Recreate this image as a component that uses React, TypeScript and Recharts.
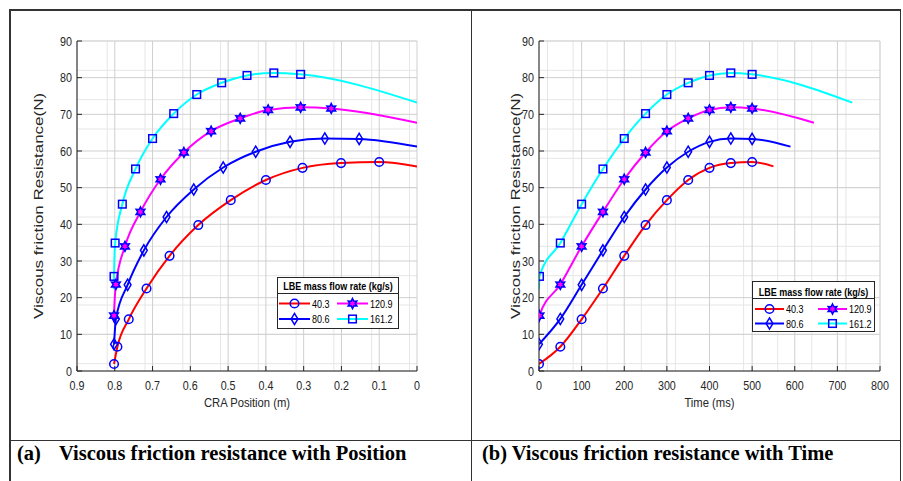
import React from 'react';
import { LineChart, Line, XAxis, YAxis, CartesianGrid, Legend, Label } from 'recharts';

// ---------- data ----------
const flowRates = ['40.3', '80.6', '120.9', '161.2'];
const lineColors = ['#ff0000', '#0000ff', '#ff00ff', '#00ffff'];
const markerKinds = ['circle', 'diamond', 'hexagram', 'square'];

// LBE 40.3 kg/s
const time40 = [0, 50, 100, 150, 200, 250, 300, 350, 400, 450, 500, 550];
const pos40 = [0.802, 0.793, 0.763, 0.716, 0.655, 0.579, 0.493, 0.4, 0.303, 0.201, 0.1, 0];
const force40 = [1.9, 6.6, 14.1, 22.5, 31.4, 39.8, 46.6, 52.1, 55.4, 56.7, 57.0, 55.8];
const mark40 = [1, 1, 1, 1, 1, 1, 1, 1, 1, 1, 1, 0];

// LBE 80.6 kg/s
const time80 = [0, 50, 100, 150, 200, 250, 300, 350, 400, 450, 500, 590];
const pos80 = [0.802, 0.797, 0.766, 0.723, 0.663, 0.591, 0.513, 0.427, 0.336, 0.244, 0.153, 0];
const force80 = [7.3, 14.2, 23.5, 32.9, 42.0, 49.5, 55.5, 59.8, 62.5, 63.4, 63.3, 61.2];
const mark80 = [1, 1, 1, 1, 1, 1, 1, 1, 1, 1, 1, 0];

// LBE 120.9 kg/s
const time120 = [0, 1, 50, 100, 150, 200, 250, 300, 350, 400, 450, 500, 645];
const pos120 = [0.802, 0.802, 0.797, 0.773, 0.732, 0.679, 0.617, 0.545, 0.468, 0.394, 0.308, 0.227, 0];
const force120 = [13.2, 15.1, 23.6, 34.0, 43.4, 52.3, 59.6, 65.4, 68.9, 71.2, 71.9, 71.6, 67.7];
const mark120 = [0, 1, 1, 1, 1, 1, 1, 1, 1, 1, 1, 1, 0];

// LBE 161.2 kg/s
const time161 = [0, 1, 50, 100, 150, 200, 250, 300, 350, 400, 450, 500, 735];
const pos161 = [0.802, 0.802, 0.799, 0.78, 0.745, 0.7, 0.644, 0.583, 0.517, 0.45, 0.379, 0.308, 0];
const force161 = [22.3, 25.8, 34.9, 45.5, 55.1, 63.4, 70.2, 75.4, 78.6, 80.6, 81.3, 80.9, 73.2];
const mark161 = [0, 1, 1, 1, 1, 1, 1, 1, 1, 1, 1, 1, 0];

// ticks
const forceTicks = [0, 10, 20, 30, 40, 50, 60, 70, 80, 90];
const posTicks = [0, 0.1, 0.2, 0.3, 0.4, 0.5, 0.6, 0.7, 0.8, 0.9];
const timeTicks = [0, 100, 200, 300, 400, 500, 600, 700, 800];
const forceMinor = Array.from({ length: 46 }, (_, i) => i * 2);
const posMinor = Array.from({ length: 46 }, (_, i) => Math.round(i * 2) / 100);
const timeMinor = Array.from({ length: 41 }, (_, i) => i * 20);

const seriesTime = [time40, time80, time120, time161];
const seriesPos = [pos40, pos80, pos120, pos161];
const seriesForce = [force40, force80, force120, force161];
const seriesMark = [mark40, mark80, mark120, mark161];

const build = (xs: number[], ys: number[], ms: number[]) =>
  xs.map((x, i) => ({ x, y: ys[i], m: ms[i] }));

// ---------- styles ----------
const SANS = "'Liberation Sans', Arial, sans-serif";
const SERIF = "'Liberation Serif', 'Times New Roman', serif";
const AXIS = '#262626';
const MARK = '#0000ff';
const SQ = 0.86; // horizontal squeeze of the chart texts

function MarkerShape({ kind, cx, cy }: { kind: string; cx: number; cy: number }) {
  const sw = 1.5;
  if (kind === 'circle') return <circle cx={cx} cy={cy} r={4.3} fill="none" stroke={MARK} strokeWidth={sw} />;
  if (kind === 'square')
    return <rect x={cx - 3.8} y={cy - 3.8} width={7.6} height={7.6} fill="none" stroke={MARK} strokeWidth={sw} />;
  if (kind === 'diamond')
    return (
      <polygon
        points={`${cx},${cy - 5.6} ${cx + 3.4},${cy} ${cx},${cy + 5.6} ${cx - 3.4},${cy}`}
        fill="none"
        stroke={MARK}
        strokeWidth={sw}
      />
    );
  const pts: string[] = [];
  for (let i = 0; i < 12; i++) {
    const r = i % 2 === 0 ? 5.0 : 2.7;
    const a = (Math.PI / 6) * i - Math.PI / 2;
    pts.push(`${cx + r * Math.cos(a)},${cy + r * Math.sin(a)}`);
  }
  return <polygon points={pts.join(' ')} fill="#ff00ff" stroke={MARK} strokeWidth={1.5} />;
}

const makeDot = (kind: string) => (props: any) => {
  const { cx, cy, payload, index } = props;
  if (!payload || !payload.m || cx == null || cy == null) return <g key={`d-${kind}-${index}`} />;
  return (
    <g key={`d-${kind}-${index}`}>
      <MarkerShape kind={kind} cx={cx} cy={cy} />
    </g>
  );
};

function SqText({ x, y, sx, children, ...rest }: any) {
  return (
    <text transform={`translate(${x},${y}) scale(${sx},1)`} x={0} y={0} {...rest}>
      {children}
    </text>
  );
}

type LegendGeom = {
  w: number;
  h: number;
  titleY: number;
  sepY: number;
  rowY: number[];
  colX: number[];
  lineLen: number;
};

function LegendBox({ g }: { g: LegendGeom }) {
  return (
    <svg width={g.w} height={g.h} style={{ display: 'block' }}>
      <rect x={0.5} y={0.5} width={g.w - 1} height={g.h - 1} fill="#fff" stroke={AXIS} strokeWidth={1} />
      <SqText x={g.w / 2} y={g.titleY} sx={0.82} textAnchor="middle" fontFamily={SANS} fontWeight="bold" fontSize={11} fill="#000">
        LBE mass flow rate (kg/s)
      </SqText>
      <line x1={0.5} x2={g.w - 0.5} y1={g.sepY} y2={g.sepY} stroke={AXIS} strokeWidth={1} />
      {flowRates.map((label, i) => {
        const col = Math.floor(i / 2);
        const row = i % 2;
        const x0 = g.colX[col];
        const y = g.rowY[row];
        return (
          <g key={label}>
            <line x1={x0} x2={x0 + g.lineLen} y1={y} y2={y} stroke={lineColors[i]} strokeWidth={2} />
            <MarkerShape kind={markerKinds[i]} cx={x0 + g.lineLen / 2} cy={y} />
            <SqText x={x0 + g.lineLen + 2} y={y + 4} sx={0.82} fontFamily={SANS} fontSize={11} fill="#000">
              {label}
            </SqText>
          </g>
        );
      })}
    </svg>
  );
}

const xLabel = (text: string) => (props: any) => {
  const vb = props.viewBox || {};
  return (
    <SqText x={vb.x + vb.width / 2} y={vb.y + 36} sx={0.9} textAnchor="middle" fill={AXIS} fontSize={12.5} fontFamily={SANS}>
      {text}
    </SqText>
  );
};

const yLabel = (text: string, bx: number) => (props: any) => {
  const vb = props.viewBox || {};
  const cy = vb.y + vb.height / 2;
  return (
    <text
      transform={`translate(${bx},${cy}) scale(0.8,1) rotate(-90)`}
      x={0}
      y={0}
      textAnchor="middle"
      fill={AXIS}
      fontSize={17}
      fontFamily={SANS}
    >
      {text}
    </text>
  );
};

const makeXTick = (fmt: (v: number) => string) => (props: any) => {
  const { x, y, payload } = props;
  return (
    <SqText x={x} y={y} sx={SQ} dy="0.72em" textAnchor="middle" fill={AXIS} fontSize={12.5} fontFamily={SANS}>
      {fmt(payload.value)}
    </SqText>
  );
};

const YTick = (props: any) => {
  const { x, y, payload } = props;
  return (
    <SqText x={x} y={y} sx={SQ} dy="0.36em" textAnchor="end" fill={AXIS} fontSize={12.5} fontFamily={SANS}>
      {String(payload.value)}
    </SqText>
  );
};

const fmtPos = (v: number) => (v === 0 ? '0' : v.toFixed(1));
const fmtTime = (v: number) => String(v);

function Panel({
  xs,
  xTicks,
  xMinor,
  xDomain,
  reversed,
  xText,
  fmt,
  width,
  yAxisWidth,
  rightMargin,
  labelX,
  legendPos,
  legendGeom,
}: any) {
  return (
    <LineChart width={width} height={420} margin={{ top: 31, right: rightMargin, bottom: 14, left: 0 }}>
      <CartesianGrid verticalValues={xMinor} horizontalValues={forceMinor} stroke="#e6e6e6" strokeWidth={1} />
      <CartesianGrid verticalValues={xTicks} horizontalValues={forceTicks} stroke="#cfcfcf" strokeWidth={1} />
      <XAxis
        dataKey="x"
        type="number"
        domain={xDomain}
        ticks={xTicks}
        reversed={reversed}
        allowDataOverflow
        height={45}
        tickSize={-5}
        tickMargin={15}
        stroke={AXIS}
        tick={makeXTick(fmt)}
        label={<Label content={xLabel(xText)} />}
      />
      <XAxis
        xAxisId="top"
        orientation="top"
        type="number"
        domain={xDomain}
        ticks={xTicks}
        reversed={reversed}
        allowDataOverflow
        height={0}
        tick={false}
        tickSize={-5}
        stroke={AXIS}
      />
      <YAxis
        type="number"
        domain={[0, 90]}
        ticks={forceTicks}
        allowDataOverflow
        width={yAxisWidth}
        tickSize={-5}
        tickMargin={10}
        stroke={AXIS}
        tick={YTick}
        label={<Label content={yLabel('Viscous friction Resistance(N)', labelX)} />}
      />
      <YAxis
        yAxisId="right"
        orientation="right"
        type="number"
        domain={[0, 90]}
        ticks={forceTicks}
        allowDataOverflow
        width={0}
        tick={false}
        tickSize={-5}
        stroke={AXIS}
      />
      <Legend
        layout="horizontal"
        verticalAlign="middle"
        align="center"
        wrapperStyle={{ left: legendPos[0], top: legendPos[1], width: legendGeom.w, height: legendGeom.h }}
        content={() => <LegendBox g={legendGeom} />}
      />
      {flowRates.map((name, i) => (
        <Line
          key={name}
          name={name}
          data={build(xs[i], seriesForce[i], seriesMark[i])}
          dataKey="y"
          type="monotone"
          stroke={lineColors[i]}
          strokeWidth={2}
          dot={makeDot(markerKinds[i])}
          activeDot={false}
          isAnimationActive={false}
        />
      ))}
    </LineChart>
  );
}

const legendLeft: LegendGeom = { w: 122, h: 52, titleY: 13, sepY: 16.5, rowY: [26.5, 42], colX: [2, 60], lineLen: 31 };
const legendRight: LegendGeom = { w: 123, h: 51, titleY: 14.5, sepY: 17.5, rowY: [28, 42.5], colX: [3, 66], lineLen: 29 };

const hLine = (left: number, top: number, width: number) => (
  <div style={{ position: 'absolute', left, top, width, height: 1.5, background: '#333' }} />
);
const vLine = (left: number, top: number, height: number) => (
  <div style={{ position: 'absolute', left, top, width: 1.5, height, background: '#333' }} />
);

const captionStyle: React.CSSProperties = {
  position: 'absolute',
  top: 441,
  lineHeight: '24px',
  fontFamily: SERIF,
  fontWeight: 'bold',
  fontSize: 20.5,
  color: '#000',
  whiteSpace: 'nowrap',
};

export default function App() {
  return (
    <div style={{ position: 'absolute', left: 0, top: 0, width: 903, height: 481, background: '#fff', overflow: 'hidden' }}>
      {hLine(9, 9, 892)}
      {hLine(9, 439.5, 892)}
      {vLine(9, 9, 480)}
      {vLine(470.5, 9, 480)}
      {vLine(899.5, 9, 480)}

      <div style={{ position: 'absolute', left: 10, top: 10 }}>
        <Panel
          xs={seriesPos}
          xTicks={posTicks}
          xMinor={posMinor}
          xDomain={[0, 0.9]}
          reversed
          xText="CRA Position (m)"
          fmt={fmtPos}
          width={455}
          yAxisWidth={67}
          rightMargin={48}
          labelX={33}
          legendPos={[267, 267]}
          legendGeom={legendLeft}
        />
      </div>

      <div style={{ position: 'absolute', left: 480, top: 10 }}>
        <Panel
          xs={seriesTime}
          xTicks={timeTicks}
          xMinor={timeMinor}
          xDomain={[0, 800]}
          reversed={false}
          xText="Time (ms)"
          fmt={fmtTime}
          width={420}
          yAxisWidth={59}
          rightMargin={20}
          labelX={40}
          legendPos={[272, 271]}
          legendGeom={legendRight}
        />
      </div>

      <div style={{ ...captionStyle, left: 17 }}>(a)</div>
      <div style={{ ...captionStyle, left: 59 }}>Viscous friction resistance with Position</div>
      <div style={{ ...captionStyle, left: 482 }}>(b) Viscous friction resistance with Time</div>
    </div>
  );
}
